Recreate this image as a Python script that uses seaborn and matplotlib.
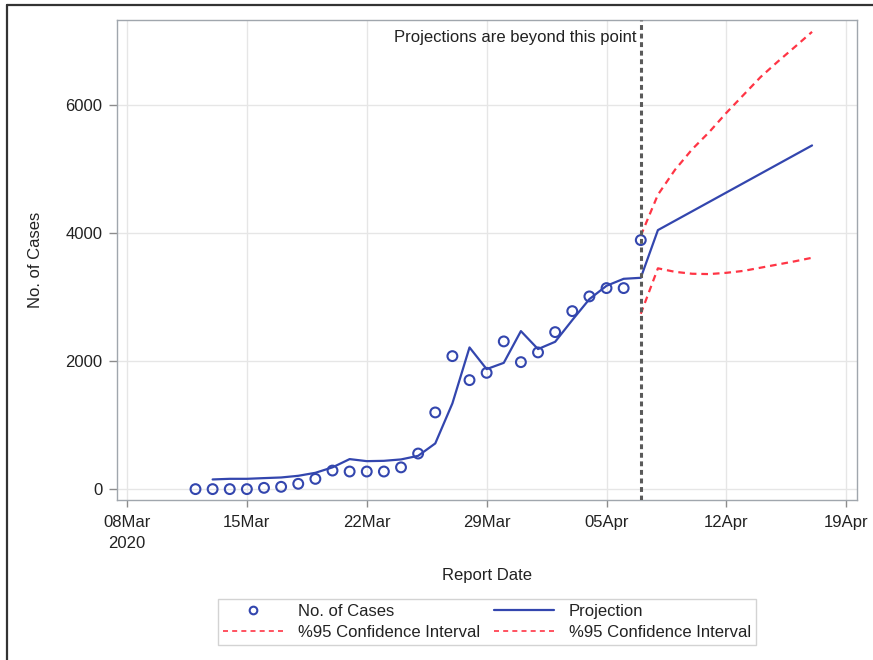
import matplotlib
matplotlib.use("Agg")
import matplotlib.pyplot as plt
import matplotlib.dates as mdates
import matplotlib.transforms as mtransforms
from matplotlib.lines import Line2D
import numpy as np
import pandas as pd
import seaborn as sns

# observed cases (12Mar .. 07Apr)
case_dates = pd.date_range("2020-03-12", "2020-04-07", freq="D")
cases = [0, 0, 0, 0, 20, 36, 83, 160, 290, 275, 275, 275, 340, 556, 1198,
         2078, 1703, 1817, 2308, 1984, 2136, 2453, 2781, 3011, 3141, 3141, 3891]

# fitted / projected line
proj_dates = list(pd.date_range("2020-03-13", "2020-04-08", freq="D")) + [pd.Timestamp("2020-04-17")]
projection = [151, 161, 161, 172, 182, 208, 255, 340, 469, 437, 442, 464, 520, 714,
              1339, 2214, 1875, 1973, 2469, 2188, 2302, 2641, 2969, 3177, 3286, 3302,
              4047, 5370]

# 95% confidence band (07Apr .. 17Apr)
ci_dates = pd.date_range("2020-04-07", "2020-04-17", freq="D")
ci_upper = [3960, 4600, 4990, 5310, 5580, 5880, 6160, 6440, 6680, 6910, 7145]
ci_lower = [2740, 3450, 3395, 3365, 3360, 3380, 3410, 3460, 3510, 3560, 3615]

tick_dates = pd.date_range("2020-03-08", "2020-04-19", freq="7D")
tick_labels = ["08Mar\n2020", "15Mar", "22Mar", "29Mar", "05Apr", "12Apr", "19Apr"]
cutoff = pd.Timestamp("2020-04-07")

sns.set_theme(style="whitegrid")
plt.rcParams["font.family"] = ["Liberation Sans", "DejaVu Sans"]

blue = "#3346ae"
red = "#ff3545"
txt = "#222222"
fs = 12

fig = plt.figure(figsize=(8.73, 6.6), dpi=100)
ax = fig.add_axes([117 / 873, 1 - 500 / 660, 740 / 873, 480 / 660])

df_cases = pd.DataFrame({"date": case_dates, "cases": cases})
df_proj = pd.DataFrame({"date": proj_dates, "value": projection})
df_ci = pd.DataFrame({"date": ci_dates, "upper": ci_upper, "lower": ci_lower})

sns.lineplot(data=df_proj, x="date", y="value", color=blue, lw=1.6, ax=ax, zorder=3)
sns.lineplot(data=df_ci, x="date", y="upper", color=red, lw=1.6, ax=ax,
             linestyle=(0, (3, 2.2)), zorder=3)
sns.lineplot(data=df_ci, x="date", y="lower", color=red, lw=1.6, ax=ax,
             linestyle=(0, (3, 2.2)), zorder=3)
sns.scatterplot(data=df_cases, x="date", y="cases", marker="o", s=50,
                facecolor="none", edgecolor=blue, linewidth=1.5, ax=ax, zorder=4)

ax.axvline(cutoff, color="#5a5a5a", lw=2.2, linestyle=(0, (1.6, 1.2)), zorder=5)
trans = mtransforms.blended_transform_factory(ax.transData, ax.transAxes)
ax.annotate("Projections are beyond this point", xy=(mdates.date2num(cutoff), 0.963),
            xycoords=trans, xytext=(-3, 0), textcoords="offset points", ha="right",
            va="center", fontsize=fs, color=txt)

x0 = pd.Timestamp("2020-03-08")
ax.set_xlim(x0 - pd.Timedelta(hours=14), x0 + pd.Timedelta(hours=int(42.66 * 24)))
ax.set_ylim(-170, 7330)
ax.set_xticks(tick_dates)
ax.set_xticklabels(tick_labels)
for lab in ax.get_xticklabels():
    lab.set_linespacing(1.55)
ax.set_yticks([0, 2000, 4000, 6000])
ax.set_yticklabels(["0", "2000", "4000", "6000"])

ax.grid(True, color="#e6e6e6", lw=1)
ax.set_facecolor("white")
for s in ax.spines.values():
    s.set_visible(True)
    s.set_color("#a0a6ad")
    s.set_linewidth(1)
ax.tick_params(axis="both", length=6, width=1, color="#8c8c8c", labelsize=fs,
               labelcolor=txt, bottom=True, left=True)
ax.tick_params(axis="x", length=5, pad=5.5)
ax.tick_params(axis="y", pad=4.5)

ax.set_xlabel("Report Date", fontsize=fs, color=txt, labelpad=12)
ax.set_ylabel("No. of Cases", fontsize=fs, color=txt, labelpad=16)

handles = [
    Line2D([], [], marker="o", ls="none", markerfacecolor="none", markeredgecolor=blue,
           markeredgewidth=1.5, markersize=5.5),
    Line2D([], [], color=red, lw=1.2, linestyle=(0, (3, 2.5))),
    Line2D([], [], color=blue, lw=1.6),
    Line2D([], [], color=red, lw=1.2, linestyle=(0, (3, 2.5))),
]
labels = ["No. of Cases", "%95 Confidence Interval", "Projection", "%95 Confidence Interval"]
leg = fig.legend(handles, labels, loc="center", bbox_to_anchor=(487 / 873, 1 - 622 / 660),
                 ncol=2, fontsize=fs, frameon=True, fancybox=False, handlelength=3.6,
                 handletextpad=0.9, columnspacing=0.8, borderpad=0.3, labelspacing=0.38)
leg.get_frame().set_edgecolor("#c8c8c8")
leg.get_frame().set_linewidth(1)
for t in leg.get_texts():
    t.set_color(txt)

# frame lines of the original screenshot (left and top)
fig.add_artist(Line2D([7 / 873, 7 / 873], [0, 1 - 5 / 660], color="#333333", lw=1.6,
                      transform=fig.transFigure))
fig.add_artist(Line2D([7 / 873, 1], [1 - 5 / 660, 1 - 5 / 660], color="#333333", lw=1.6,
                      transform=fig.transFigure))

fig.savefig("out.png", dpi=100)
